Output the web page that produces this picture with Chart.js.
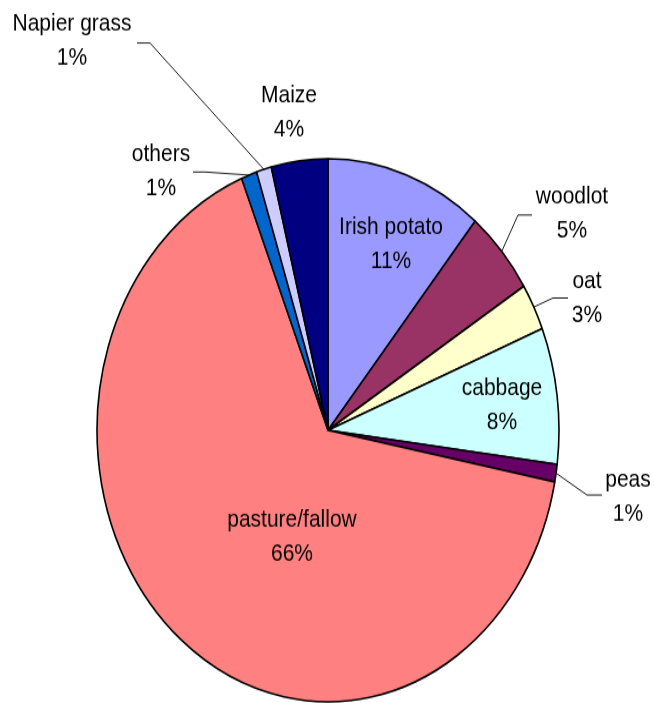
<!DOCTYPE html>
<html lang="en">
<head>
  <meta charset="UTF-8">
  <title>Land use</title>
  <script src="https://cdn.jsdelivr.net/npm/chart.js"></script>
  <style>
    html, body {
      margin: 0;
      background: #fff;
      overflow: hidden;
    }
    #wrap {
      width: 654px;
      height: 703px;
    }
    canvas {
      display: block;
      /* the original pie is a circle stretched vertically */
      transform: scaleY(1.17559);
      transform-origin: 0 0;
    }
  </style>
</head>
<body>
  <div id="wrap">
    <canvas id="landChart" width="654" height="598"></canvas>
  </div>

  <script>
    const cropNames = ["Irish potato", "woodlot", "oat", "cabbage", "peas", "pasture/fallow", "others", "Napier grass", "Maize"];
    const cropShares = [11.0, 5.1, 2.8, 8.1, 1.05, 65.85, 1.1, 1.05, 3.95];
    const shareLabels = ["11%", "5%", "3%", "8%", "1%", "66%", "1%", "1%", "4%"];
    const sliceColors = ["#9999FF", "#993366", "#FFFFCC", "#CCFFFF", "#660066", "#FF8080", "#0066CC", "#CCCCFF", "#000080"];

    const stretch = 703 / 598;

    // label centres (x, y of first line) and leader start points, in page pixels
    const labelSpots = {
      "Irish potato":   { x: 391, y: 227, lead: null },
      "woodlot":        { x: 572, y: 197, lead: [[532, 215], [518, 215]] },
      "oat":            { x: 587, y: 281, lead: [[568, 298], [553, 298]] },
      "cabbage":        { x: 502, y: 388, lead: null },
      "peas":           { x: 628, y: 480, lead: [[602, 495], [587, 495]] },
      "pasture/fallow": { x: 292, y: 520, lead: null },
      "others":         { x: 161, y: 154, lead: [[193, 172], [205, 172]] },
      "Napier grass":   { x: 72,  y: 24,  lead: [[137, 43], [150, 43]] },
      "Maize":          { x: 289, y: 96,  lead: null }
    };

    const pieLabels = {
      id: "pieLabels",
      afterDraw(chart) {
        const ctx = chart.ctx;
        const meta = chart.getDatasetMeta(0);
        ctx.save();
        ctx.font = "21px 'Liberation Sans', Arial, sans-serif";
        ctx.fillStyle = "#000";
        ctx.strokeStyle = "#000";
        ctx.lineWidth = 0.9;
        ctx.textAlign = "center";
        ctx.textBaseline = "middle";
        cropNames.forEach((name, i) => {
          const spot = labelSpots[name];
          const arc = meta.data[i];
          const p = arc.getProps(["x", "y", "startAngle", "endAngle", "outerRadius"], true);
          const mid = (p.startAngle + p.endAngle) / 2;
          const ax = p.x + Math.cos(mid) * p.outerRadius;
          const ay = p.y + Math.sin(mid) * p.outerRadius;
          if (spot.lead) {
            ctx.beginPath();
            ctx.moveTo(spot.lead[0][0], spot.lead[0][1] / stretch);
            ctx.lineTo(spot.lead[1][0], spot.lead[1][1] / stretch);
            ctx.lineTo(ax, ay);
            ctx.stroke();
          }
          ctx.fillText(name, spot.x, spot.y / stretch);
          ctx.fillText(shareLabels[i], spot.x, (spot.y + 34) / stretch);
        });
        ctx.restore();
      }
    };

    new Chart(document.getElementById("landChart"), {
      type: "pie",
      data: {
        labels: cropNames,
        datasets: [{
          data: cropShares,
          backgroundColor: sliceColors,
          borderColor: "#000",
          borderWidth: 1.6
        }]
      },
      options: {
        responsive: false,
        animation: false,
        radius: 231,
        layout: { padding: { left: 97, right: 95, top: 135, bottom: 1 } },
        plugins: {
          legend: { display: false },
          tooltip: { enabled: false }
        }
      },
      plugins: [pieLabels]
    });
  </script>
</body>
</html>
